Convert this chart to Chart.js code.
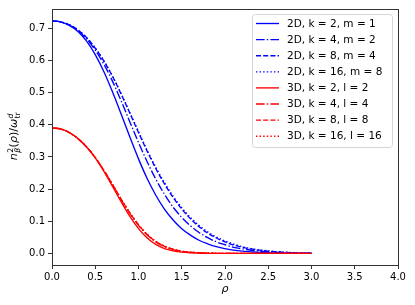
<!DOCTYPE html>
<html>
<head>
<meta charset="utf-8">
<script src="https://cdn.jsdelivr.net/npm/chart.js@4/dist/chart.umd.min.js"></script>
<style>
  html, body { margin: 0; padding: 0; background: #fff; }
  #wrap { width: 415px; height: 305px; }
</style>
</head>
<body>
<div id="wrap"><canvas id="chart" width="415" height="305"></canvas></div>
<script>
// radial coordinate
const rho = [0.0, 0.1, 0.2, 0.3, 0.4, 0.5, 0.6, 0.7, 0.8, 0.9, 1.0, 1.1, 1.2, 1.3, 1.4, 1.5,
  1.6, 1.7, 1.8, 1.9, 2.0, 2.1, 2.2, 2.3, 2.4, 2.5, 2.6, 2.7, 2.8, 2.9, 3.0];

// 2D curves
const d2k2 = [0.723, 0.720, 0.709, 0.690, 0.660, 0.618, 0.565, 0.502, 0.433, 0.362, 0.294, 0.233, 0.181, 0.138, 0.104, 0.077,
  0.057, 0.041, 0.030, 0.021, 0.015, 0.010, 0.007, 0.005, 0.003, 0.002, 0.001, 0.001, 0.000, 0.000, 0.000];
const d2k4 = [0.723, 0.720, 0.710, 0.693, 0.667, 0.632, 0.588, 0.535, 0.474, 0.409, 0.345, 0.285, 0.231, 0.184, 0.144, 0.112,
  0.086, 0.065, 0.049, 0.036, 0.027, 0.019, 0.014, 0.010, 0.007, 0.005, 0.003, 0.002, 0.001, 0.001, 0.000];
const d2k8 = [0.723, 0.720, 0.711, 0.695, 0.671, 0.638, 0.598, 0.550, 0.495, 0.436, 0.376, 0.318, 0.264, 0.216, 0.174, 0.138,
  0.108, 0.083, 0.063, 0.048, 0.036, 0.026, 0.019, 0.014, 0.010, 0.007, 0.005, 0.003, 0.002, 0.001, 0.001];
const d2k16 = [0.723, 0.720, 0.711, 0.695, 0.671, 0.639, 0.599, 0.551, 0.497, 0.438, 0.379, 0.321, 0.268, 0.220, 0.178, 0.142,
  0.112, 0.087, 0.067, 0.051, 0.039, 0.029, 0.021, 0.015, 0.011, 0.008, 0.005, 0.004, 0.002, 0.001, 0.001];

// 3D curves
const d3k2 = [0.390, 0.387, 0.376, 0.357, 0.331, 0.297, 0.255, 0.208, 0.160, 0.115, 0.077, 0.048, 0.028, 0.015, 0.008, 0.004,
  0.002, 0.001, 0.000, 0.000, 0.000, 0.000, 0.000, 0.000, 0.000, 0.000, 0.000, 0.000, 0.000, 0.000, 0.000];
const d3k4 = [0.390, 0.387, 0.376, 0.357, 0.331, 0.298, 0.258, 0.213, 0.167, 0.124, 0.087, 0.057, 0.036, 0.021, 0.012, 0.006,
  0.003, 0.002, 0.001, 0.000, 0.000, 0.000, 0.000, 0.000, 0.000, 0.000, 0.000, 0.000, 0.000, 0.000, 0.000];
const d3k8 = [0.390, 0.387, 0.376, 0.357, 0.331, 0.298, 0.258, 0.214, 0.168, 0.126, 0.089, 0.059, 0.037, 0.022, 0.013, 0.007,
  0.004, 0.002, 0.001, 0.000, 0.000, 0.000, 0.000, 0.000, 0.000, 0.000, 0.000, 0.000, 0.000, 0.000, 0.000];
const d3k16 = [0.390, 0.387, 0.376, 0.357, 0.331, 0.298, 0.258, 0.215, 0.169, 0.127, 0.090, 0.060, 0.038, 0.023, 0.013, 0.007,
  0.004, 0.002, 0.001, 0.000, 0.000, 0.000, 0.000, 0.000, 0.000, 0.000, 0.000, 0.000, 0.000, 0.000, 0.000];

const labels = ["2D, k = 2, m = 1", "2D, k = 4, m = 2", "2D, k = 8, m = 4", "2D, k = 16, m = 8",
  "3D, k = 2, l = 2", "3D, k = 4, l = 4", "3D, k = 8, l = 8", "3D, k = 16, l = 16"];
const xTicks = [0, 0.5, 1, 1.5, 2, 2.5, 3, 3.5, 4];
const yTicks = [0, 0.1, 0.2, 0.3, 0.4, 0.5, 0.6, 0.7];

const series = [d2k2, d2k4, d2k8, d2k16, d3k2, d3k4, d3k8, d3k16];
const colors = ["#0000ff", "#0000ff", "#0000ff", "#0000ff", "#ff0000", "#ff0000", "#ff0000", "#ff0000"];
const lw = 1.35;
const dashes = [[], [8.6, 2.2, 1.4, 2.2], [5, 2.2], [1.4, 2.2], [], [8.6, 2.2, 1.4, 2.2], [5, 2.2], [1.4, 2.2]];

const FONT = "DejaVu Sans";

let datasets = series.map(function (vals, i) {
  return {
    label: labels[i],
    data: vals.map(function (v, j) { return {x: rho[j], y: v}; }),
    borderColor: colors[i],
    backgroundColor: colors[i],
    borderWidth: lw,
    borderDash: dashes[i],
    pointRadius: 0,
    fill: false,
    cubicInterpolationMode: 'monotone',
    order: series.length - i
  };
});

// frame, y title and matplotlib-like legend
const decorations = {
  id: 'decorations',
  afterDraw(chart) {
    const ctx = chart.ctx;
    const a = chart.chartArea;
    ctx.save();
    ctx.strokeStyle = '#333';
    ctx.lineWidth = 1;
    ctx.strokeRect(Math.round(a.left) + 0.5, Math.round(a.top) + 0.5,
      Math.round(a.right - a.left), Math.round(a.bottom - a.top));

    // legend box
    const lx = 252, ly = 14, lwBox = 140, lh = 133;
    ctx.beginPath();
    if (ctx.roundRect) ctx.roundRect(lx + 0.5, ly + 0.5, lwBox, lh, 3); else ctx.rect(lx + 0.5, ly + 0.5, lwBox, lh);
    ctx.fillStyle = 'rgba(255,255,255,0.8)';
    ctx.fill();
    ctx.strokeStyle = '#d6d6d6';
    ctx.stroke();
    ctx.font = '10.5px ' + FONT;
    ctx.textBaseline = 'middle';
    ctx.fillStyle = '#000';
    chart.data.datasets.forEach(function (ds, i) {
      const y = 23.5 + i * 16.1;
      ctx.save();
      ctx.strokeStyle = ds.borderColor;
      ctx.lineWidth = lw;
      ctx.setLineDash(ds.borderDash);
      ctx.beginPath();
      ctx.moveTo(256, y);
      ctx.lineTo(279, y);
      ctx.stroke();
      ctx.restore();
      ctx.fillText(ds.label, 287, y + 0.5);
    });

    // y axis title with sub/superscripts
    ctx.translate(13, 136);
    ctx.rotate(-Math.PI / 2);
    const big = 11, small = 7.7;
    const parts = [
      {t: 'n', f: 'italic ' + big + 'px ' + FONT},
      {stack: [{t: '2', f: small + 'px ' + FONT, dy: -4}, {t: 'β', f: 'italic ' + small + 'px ' + FONT, dy: 3}]},
      {t: '(', f: big + 'px ' + FONT},
      {t: 'ρ', f: 'italic ' + big + 'px ' + FONT},
      {t: ')', f: big + 'px ' + FONT},
      {t: '/', f: big + 'px ' + FONT},
      {t: 'ω', f: 'italic ' + big + 'px ' + FONT},
      {stack: [{t: 'd', f: 'italic ' + small + 'px ' + FONT, dy: -4}, {t: 'tr', f: small + 'px ' + FONT, dy: 3}]}
    ];
    function width(p) {
      if (p.stack) {
        return Math.max.apply(null, p.stack.map(function (s) { ctx.font = s.f; return ctx.measureText(s.t).width; })) + 1;
      }
      ctx.font = p.f;
      return ctx.measureText(p.t).width;
    }
    let total = 0;
    parts.forEach(function (p) { total += width(p); });
    let x = -total / 2;
    ctx.textBaseline = 'alphabetic';
    ctx.textAlign = 'left';
    parts.forEach(function (p) {
      const w = width(p);
      if (p.stack) {
        p.stack.forEach(function (s) { ctx.font = s.f; ctx.fillText(s.t, x + 0.5, 4 + s.dy); });
      } else {
        ctx.font = p.f;
        ctx.fillText(p.t, x, 4);
      }
      x += w;
    });
    ctx.restore();
  }
};

new Chart(document.getElementById('chart'), {
  type: 'line',
  data: { datasets: datasets },
  options: {
    responsive: false,
    animation: false,
    devicePixelRatio: 1,
    layout: { padding: { left: 0, right: 17, top: 8, bottom: 0 } },
    plugins: { legend: { display: false }, tooltip: { enabled: false } },
    scales: {
      x: {
        type: 'linear',
        min: 0, max: 4,
        afterFit: function (s) { s.height = 40; },
        afterBuildTicks: function (s) { s.ticks = xTicks.map(function (v) { return {value: v}; }); },
        ticks: { color: '#000', font: { family: FONT, size: 10 }, padding: 2, maxRotation: 0,
          callback: function (v) { return Number(v).toFixed(1); } },
        grid: { drawOnChartArea: false, drawTicks: true, tickLength: 4, tickColor: '#333' },
        border: { display: true, color: '#333', width: 1 },
        title: { display: true, text: 'ρ', color: '#000', padding: { top: 0, bottom: 9 },
          font: { family: FONT, size: 11, style: 'italic' } }
      },
      y: {
        type: 'linear',
        min: -0.036, max: 0.76,
        afterFit: function (s) { s.width = 52; },
        afterBuildTicks: function (s) { s.ticks = yTicks.map(function (v) { return {value: v}; }); },
        ticks: { color: '#000', font: { family: FONT, size: 10 }, padding: 3,
          callback: function (v) { return Number(v).toFixed(1); } },
        grid: { drawOnChartArea: false, drawTicks: true, tickLength: 4, tickColor: '#333' },
        border: { display: true, color: '#333', width: 1 }
      }
    }
  },
  plugins: [decorations]
});
</script>
</body>
</html>
